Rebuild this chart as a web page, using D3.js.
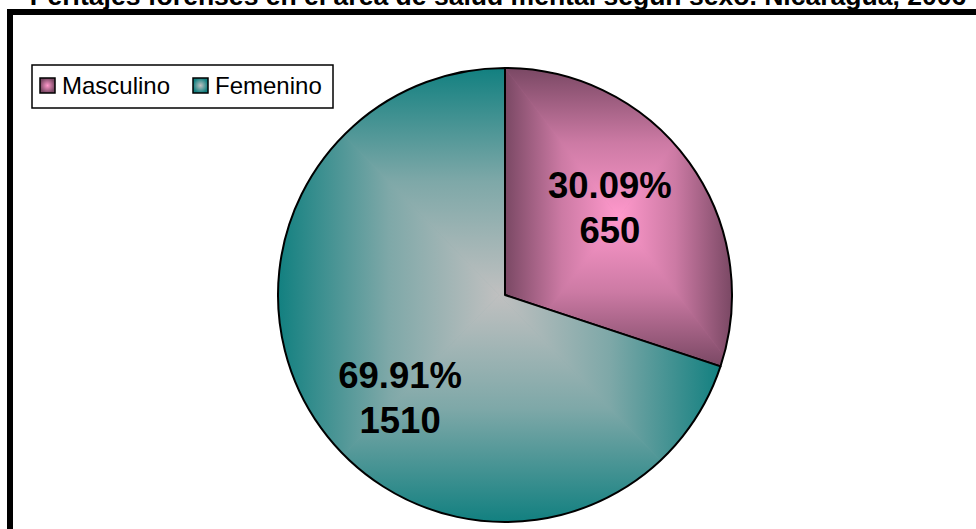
<!DOCTYPE html>
<meta charset="utf-8">
<style>
  body {
    background-color: white;
    padding: 0;
    margin: 0;
    overflow: hidden;
  }
  svg {
    display: block;
    background-color: white;
  }
  text {
    font-family: "Liberation Sans", Arial, sans-serif;
  }
</style>
<script src="https://d3js.org/d3.v7.min.js"></script>
<svg id="vis"></svg>
<script>

// data
const title = "Peritajes forenses en el área de salud mental según sexo. Nicaragua, 2006";
const categories = ["Masculino", "Femenino"];
const values = [650, 1510];
const edgeColors = ["#7a4864", "#128080"];
const centerColors = ["#ff99cc", "#c0c0c0"];

var width = 976, height = 529;
var cx = 505, cy = 295, R = 227;

var svg = d3.select("#vis")
  .attr("width", width)
  .attr("height", height);

var defs = svg.append("defs");

// frame (runs off the right and bottom of the page)
svg.append("rect")
  .attr("x", 10).attr("y", 12)
  .attr("width", width + 20).attr("height", height + 20)
  .attr("fill", "white")
  .attr("stroke", "black")
  .attr("stroke-width", 6);

// title, clipped at the top in the original
var titleText = svg.append("text")
  .attr("x", 498)
  .attr("y", 5)
  .attr("text-anchor", "middle")
  .attr("font-weight", "bold")
  .attr("font-size", 20)
  .text(title);
var tl = titleText.node().getComputedTextLength();
titleText.attr("font-size", 20 * 937 / tl);

var total = d3.sum(values);
var fmt = d3.format(".2%");
var color = d3.scaleOrdinal().domain(categories).range(edgeColors);
var light = d3.scaleOrdinal().domain(categories).range(centerColors);

var pie = d3.pie().sort(null).value(d => d.value);
var arcs = pie(categories.map((c, i) => ({name: c, value: values[i]})));
var arc = d3.arc().innerRadius(0).outerRadius(R);

var g = svg.append("g").attr("transform", `translate(${cx},${cy})`);

// bounding box of a slice, for the "from center" rectangle gradient
function sliceBox(d) {
  var pts = [[0, 0]];
  var angs = [d.startAngle, d.endAngle];
  for (var k = 0; k <= 4; k++) {
    var a = k * Math.PI / 2;
    if (a > d.startAngle && a < d.endAngle) angs.push(a);
  }
  angs.forEach(a => pts.push([R * Math.sin(a), -R * Math.cos(a)]));
  return {
    x0: d3.min(pts, p => p[0]), x1: d3.max(pts, p => p[0]),
    y0: d3.min(pts, p => p[1]), y1: d3.max(pts, p => p[1])
  };
}

arcs.forEach(function(d, i) {
  var b = sliceBox(d);
  var mx = (b.x0 + b.x1) / 2, my = (b.y0 + b.y1) / 2;
  var e = color(d.data.name), c = light(d.data.name);
  var mid = d3.interpolateRgb(e, c)(0.62);

  defs.append("clipPath").attr("id", "clip" + i)
    .append("path").attr("d", arc(d));

  var sides = [
    {pts: [[b.x0, b.y0], [b.x1, b.y0], [mx, my]], from: [mx, b.y0]},
    {pts: [[b.x1, b.y0], [b.x1, b.y1], [mx, my]], from: [b.x1, my]},
    {pts: [[b.x1, b.y1], [b.x0, b.y1], [mx, my]], from: [mx, b.y1]},
    {pts: [[b.x0, b.y1], [b.x0, b.y0], [mx, my]], from: [b.x0, my]}
  ];

  var sg = g.append("g").attr("clip-path", `url(#clip${i})`);
  sg.append("path").attr("d", arc(d)).attr("fill", mid);

  sides.forEach(function(s, j) {
    var id = `grad${i}_${j}`;
    var lg = defs.append("linearGradient").attr("id", id)
      .attr("gradientUnits", "userSpaceOnUse")
      .attr("x1", s.from[0]).attr("y1", s.from[1])
      .attr("x2", mx).attr("y2", my);
    lg.append("stop").attr("offset", 0).attr("stop-color", e);
    lg.append("stop").attr("offset", 0.5).attr("stop-color", mid);
    lg.append("stop").attr("offset", 1).attr("stop-color", c);
    sg.append("polygon")
      .attr("points", s.pts.map(p => p.join(",")).join(" "))
      .attr("fill", `url(#${id})`)
      .attr("stroke", `url(#${id})`)
      .attr("stroke-width", 0.6);
  });

  g.append("path")
    .attr("d", arc(d))
    .attr("fill", "none")
    .attr("stroke", "black")
    .attr("stroke-width", 2)
    .attr("stroke-linejoin", "round");
});

// data labels
var labelArc = d3.arc().innerRadius(R * 0.57).outerRadius(R * 0.57);
var nudge = [-11, 27];
var labels = g.selectAll("text.lab").data(arcs).enter()
  .append("text")
  .attr("class", "lab")
  .attr("text-anchor", "middle")
  .attr("font-weight", "bold")
  .attr("font-size", 36.5)
  .attr("transform", (d, i) => {
    var p = labelArc.centroid(d);
    return `translate(${p[0]},${p[1] + nudge[i]})`;
  });
labels.append("tspan").attr("x", 0).attr("y", -10)
  .text(d => fmt(d.data.value / total));
labels.append("tspan").attr("x", 0).attr("y", 35)
  .text(d => d.data.value);

// legend
var lg = svg.append("g").attr("transform", "translate(32,65)");
lg.append("rect")
  .attr("width", 301).attr("height", 43)
  .attr("fill", "white")
  .attr("stroke", "black")
  .attr("stroke-width", 1.5);

var legX = [8, 161];
categories.forEach(function(c, i) {
  var rg = defs.append("radialGradient").attr("id", "leg" + i);
  rg.append("stop").attr("offset", 0).attr("stop-color", light(c));
  rg.append("stop").attr("offset", 1).attr("stop-color", color(c));
  var it = lg.append("g").attr("transform", `translate(${legX[i]},13)`);
  it.append("rect")
    .attr("width", 15).attr("height", 15)
    .attr("fill", `url(#leg${i})`)
    .attr("stroke", "black")
    .attr("stroke-width", 1.5);
  it.append("text")
    .attr("x", 22).attr("y", 16)
    .attr("font-size", 24)
    .text(c);
});

</script>
